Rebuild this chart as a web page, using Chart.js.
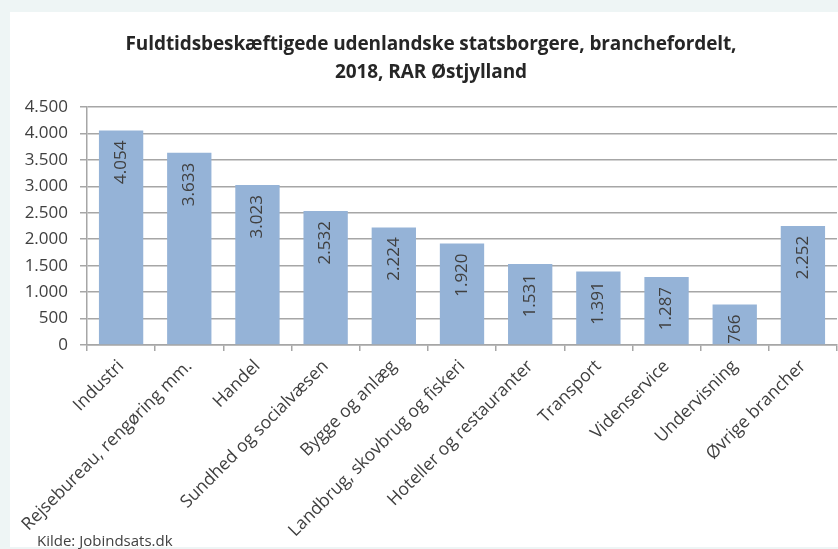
<!DOCTYPE html>
<html>
<head>
<meta charset="utf-8">
<script src="https://cdn.jsdelivr.net/npm/chart.js@4/dist/chart.umd.min.js"></script>
<style>
  html, body { margin: 0; padding: 0; }
  body { width: 838px; height: 549px; background: #eef5f5; overflow: hidden; position: relative; font-family: "Open Sans", sans-serif; }
  .panel { position: absolute; left: 10px; top: 12px; width: 828px; height: 535px; background: #fff; }
  .title { position: absolute; left: 10px; top: 29px; width: 842px; text-align: center; font-weight: bold; font-size: 19px; line-height: 28px; color: #262626; letter-spacing: -0.1px; }
  .source { position: absolute; left: 37px; top: 530px; font-size: 15px; color: #404040; }
  #chart { position: absolute; left: 10px; top: 12px; }
</style>
</head>
<body>
<div class="panel"></div>
<canvas id="chart" width="828" height="535"></canvas>
<div class="title">Fuldtidsbeskæftigede udenlandske statsborgere, branchefordelt,<br>2018, RAR Østjylland</div>
<div class="source">Kilde: Jobindsats.dk</div>
<script>
const categories = [
  'Industri',
  'Rejsebureau, rengøring mm.',
  'Handel',
  'Sundhed og socialvæsen',
  'Bygge og anlæg',
  'Landbrug, skovbrug og fiskeri',
  'Hoteller og restauranter',
  'Transport',
  'Videnservice',
  'Undervisning',
  'Øvrige brancher'
];
const values = [4054, 3633, 3023, 2532, 2224, 1920, 1531, 1391, 1287, 766, 2252];
const yTicks = [0, 500, 1000, 1500, 2000, 2500, 3000, 3500, 4000, 4500];

const fmt = (n) => String(n).replace(/\B(?=(\d{3})+(?!\d))/g, '.');

const gridColor = '#a6a6a6';
const textColor = '#404040';

const barLabels = {
  id: 'barLabels',
  afterDatasetsDraw(chart) {
    const ctx = chart.ctx;
    const meta = chart.getDatasetMeta(0);
    ctx.save();
    ctx.font = '17px "Open Sans"';
    ctx.fillStyle = textColor;
    ctx.textAlign = 'right';
    ctx.textBaseline = 'middle';
    meta.data.forEach((bar, i) => {
      ctx.save();
      ctx.translate(bar.x, bar.y + 10);
      ctx.rotate(-Math.PI / 2);
      ctx.fillText(fmt(values[i]), 0, 0);
      ctx.restore();
    });
    ctx.restore();
  }
};

new Chart(document.getElementById('chart'), {
  type: 'bar',
  data: {
    labels: categories,
    datasets: [{
      data: values,
      backgroundColor: '#95b3d7',
      borderWidth: 0,
      categoryPercentage: 1,
      barPercentage: 0.65
    }]
  },
  options: {
    responsive: false,
    animation: false,
    layout: { padding: { top: 95, right: 1, left: 0, bottom: 0 } },
    plugins: {
      legend: { display: false },
      title: { display: false },
      tooltip: { enabled: false }
    },
    scales: {
      x: {
        offset: true,
        grid: { display: true, offset: true, drawOnChartArea: false, color: gridColor, tickLength: 6, lineWidth: 1.5 },
        border: { color: gridColor, width: 1.5 },
        ticks: {
          color: textColor,
          font: { family: 'Open Sans', size: 17.5 },
          minRotation: 45,
          maxRotation: 45,
          autoSkip: false,
          padding: 5
        },
        afterFit(scale) { scale.height = 202; }
      },
      y: {
        min: 0,
        max: 4500,
        afterBuildTicks(scale) { scale.ticks = yTicks.map(v => ({ value: v })); },
        grid: { color: gridColor, tickLength: 7, lineWidth: 1.5 },
        border: { color: gridColor, width: 1.5 },
        ticks: {
          color: textColor,
          font: { family: 'Open Sans', size: 17 },
          padding: 12,
          callback: (v) => fmt(v)
        },
        afterFit(scale) { scale.width = 77; }
      }
    }
  },
  plugins: [barLabels]
});
</script>
</body>
</html>
